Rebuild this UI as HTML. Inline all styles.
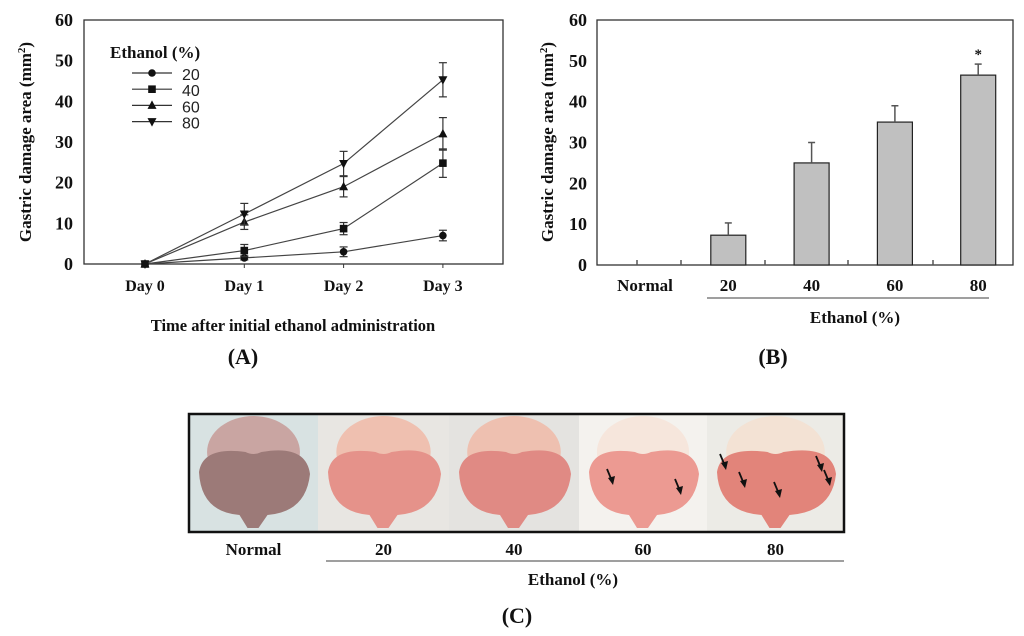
<!DOCTYPE html>
<html><head><meta charset="utf-8">
<style>
body{margin:0;background:#fff;}
svg{display:block;}
.ser{font-family:"Liberation Serif",serif;font-weight:bold;fill:#111;}
.sans{font-family:"Liberation Sans",sans-serif;fill:#222;}
</style></head>
<body>
<svg id="fig" width="1024" height="636" viewBox="0 0 1024 636" xmlns="http://www.w3.org/2000/svg">
<g id="panelA"></g>
<g id="panelB"></g>
<g id="panelC"></g>
</svg>
<script>
// Panel A data
const daysA = ["Day 0","Day 1","Day 2","Day 3"];
const seriesNamesA = ["20","40","60","80"];
const s20 = [0,1.5,3,7];
const s40 = [0,3.3,8.7,24.8];
const s60 = [0,10.3,19,32];
const s80 = [0,12.3,24.7,45.3];
const e20 = [0,0.5,1.2,1.3];
const e40 = [0,1.5,1.5,3.5];
const e60 = [0,1.8,2.5,4];
const e80 = [0,2.6,3,4.2];
const yTicksA = [0,10,20,30,40,50,60];
// Panel B data
const catsB = ["Normal","20","40","60","80"];
const valsB = [0,7.3,25,35,46.5];
const errB = [0,3,5,4,2.7];
const yTicksB = [0,10,20,30,40,50,60];

const NS="http://www.w3.org/2000/svg";
function mk(parent,tag,attrs,text){const e=document.createElementNS(NS,tag);for(const k in attrs)e.setAttribute(k,attrs[k]);if(text!==undefined)e.textContent=text;parent.appendChild(e);return e;}

// ---------- Panel A ----------
const A=document.getElementById('panelA');
const ax0=84,ax1=503,ay0=264,ay1=20;
const yA=v=>ay0-(v/60)*(ay0-ay1);
const xA=i=>145+i*99.3;
let r=mk(A,'rect',{x:ax0,y:ay1,width:ax1-ax0,height:ay0-ay1,fill:'none',stroke:'#333','stroke-width':1.3});


yTicksA.forEach(t=>{
  const tx=mk(A,'text',{x:73,y:yA(t)+6,'text-anchor':'end','font-size':18,class:'ser'},t);
  
  
});
daysA.forEach((d,i)=>{
  mk(A,'line',{x1:xA(i),x2:xA(i),y1:ay0,y2:ay0+4,stroke:'#333'});
  const tx=mk(A,'text',{x:xA(i),y:291,'text-anchor':'middle','font-size':16,class:'ser'},d);
  
  
});
let t=mk(A,'text',{x:293,y:331,'text-anchor':'middle','font-size':16.5,class:'ser'},'Time after initial ethanol administration');


t=mk(A,'text',{transform:'translate(31,142) rotate(-90)','text-anchor':'middle','font-size':17,class:'ser'});
t.innerHTML='Gastric damage area (mm<tspan dy="-6" font-size="11">2</tspan><tspan dy="6">)</tspan>';


t=mk(A,'text',{x:243,y:364,'text-anchor':'middle','font-size':22,class:'ser'},'(A)');



function marker(g,kind,x,y){
  if(kind===0) return mk(g,'circle',{cx:x,cy:y,r:3.8,fill:'#111'});
  if(kind===1) return mk(g,'rect',{x:x-3.8,y:y-3.8,width:7.6,height:7.6,fill:'#111'});
  if(kind===2) return mk(g,'polygon',{points:`${x},${y-5} ${x-4.5},${y+3.5} ${x+4.5},${y+3.5}`,fill:'#111'});
  return mk(g,'polygon',{points:`${x},${y+5} ${x-4.5},${y-3.5} ${x+4.5},${y-3.5}`,fill:'#111'});
}
const allS=[s20,s40,s60,s80], allE=[e20,e40,e60,e80];
allS.forEach((s,k)=>{
  const g=mk(A,'g',{});
  
  
  mk(g,'polyline',{points:s.map((v,i)=>xA(i)+','+yA(v)).join(' '),fill:'none',stroke:'#444','stroke-width':1.2});
  s.forEach((v,i)=>{
    const e=allE[k][i];
    if(e>0){
      mk(g,'line',{x1:xA(i),x2:xA(i),y1:yA(v+e),y2:yA(v-e),stroke:'#333','stroke-width':1.2});
      mk(g,'line',{x1:xA(i)-4,x2:xA(i)+4,y1:yA(v+e),y2:yA(v+e),stroke:'#333','stroke-width':1.2});
      mk(g,'line',{x1:xA(i)-4,x2:xA(i)+4,y1:yA(v-e),y2:yA(v-e),stroke:'#333','stroke-width':1.2});
    }
    const m=marker(g,k,xA(i),yA(v));
    
    
  });
});
// legend
t=mk(A,'text',{x:110,y:58,'font-size':17,class:'ser'},'Ethanol (%)');


seriesNamesA.forEach((n,k)=>{
  const ly=73+k*16.2;
  const g=mk(A,'g',{});
  
  
  mk(g,'line',{x1:132,x2:172,y1:ly,y2:ly,stroke:'#333','stroke-width':1.2});
  marker(g,k,152,ly);
  mk(g,'text',{x:182,y:ly+7,'font-size':16,class:'sans'},n);
});

// ---------- Panel B ----------
const B=document.getElementById('panelB');
const bx0=597,bx1=1013,by0=265,by1=20;
const yB=v=>by0-(v/60)*(by0-by1);
const xB=i=>645+i*83.3;
const tickXB=[637,681,765,848,933];
r=mk(B,'rect',{x:bx0,y:by1,width:bx1-bx0,height:by0-by1,fill:'none',stroke:'#333','stroke-width':1.3});


tickXB.forEach(x=>mk(B,'line',{x1:x,x2:x,y1:by0,y2:by0-5,stroke:'#555','stroke-width':1.5}));
yTicksB.forEach(tk=>{
  const tx=mk(B,'text',{x:587,y:yB(tk)+6,'text-anchor':'end','font-size':18,class:'ser'},tk);
  
  
});
t=mk(B,'text',{transform:'translate(553,142) rotate(-90)','text-anchor':'middle','font-size':17,class:'ser'});
t.innerHTML='Gastric damage area (mm<tspan dy="-6" font-size="11">2</tspan><tspan dy="6">)</tspan>';


catsB.forEach((c,i)=>{
  const v=valsB[i],e=errB[i],x=xB(i);
  if(v>0){
    const b=mk(B,'rect',{x:x-17.5,y:yB(v),width:35,height:yB(0)-yB(v),fill:'#c0c0c0',stroke:'#222','stroke-width':1.2});
    
    
    mk(B,'line',{x1:x,x2:x,y1:yB(v),y2:yB(v+e),stroke:'#555','stroke-width':1.5});
    mk(B,'line',{x1:x-3.5,x2:x+3.5,y1:yB(v+e),y2:yB(v+e),stroke:'#555','stroke-width':1.5});
  }
  const tx=mk(B,'text',{x:x,y:291,'text-anchor':'middle','font-size':17,class:'ser'},c);
  
  
});
t=mk(B,'text',{x:xB(4),y:yB(valsB[4]+errB[4])-5,'text-anchor':'middle','font-size':15,class:'ser'},'*');


mk(B,'line',{x1:707,x2:989,y1:298,y2:298,stroke:'#666','stroke-width':1.3});
t=mk(B,'text',{x:855,y:323,'text-anchor':'middle','font-size':17,class:'ser'},'Ethanol (%)');


t=mk(B,'text',{x:773,y:364,'text-anchor':'middle','font-size':22,class:'ser'},'(B)');



// ---------- Panel C ----------
const C=document.getElementById('panelC');
const photoLabels=["Normal","20","40","60","80"];
const px=[189,318,449,579,707,844];
const bgs=['#d8e2e2','#e8e6e2','#e4e3e0','#f4f2ee','#ecebe6'];
const tissue=['#9c7a78','#e5928a','#e08a84','#ec9a92','#e2847a'];
const upper=['#c9a5a2','#efc0b0','#eec0b0','#f6e6dc','#f3e2d4'];
photoLabels.forEach((lab,i)=>{
  const x0=px[i],w=px[i+1]-px[i],cx=x0+w/2;
  const g=mk(C,'g',{});
  
  
  mk(g,'rect',{x:x0,y:413,width:w,height:119,fill:bgs[i]});
  mk(g,'ellipse',{cx:cx,cy:452,rx:w*0.36,ry:36,fill:upper[i]});
  mk(g,'path',{d:`M${x0+10},${472} Q${x0+14},${446} ${cx-8},${452} Q${cx},${456} ${cx+8},${452} Q${x0+w-12},${444} ${x0+w-8},${474} Q${x0+w-12},${512} ${cx+14},${515} L${cx+5},${528} L${cx-6},${528} L${cx-14},${515} Q${x0+12},${512} ${x0+10},${472} Z`,fill:tissue[i]});
  const tx=mk(C,'text',{x:cx,y:555,'text-anchor':'middle','font-size':17,class:'ser'},lab);
  
  
});
// arrows
const arrows=[[612,483],[680,493],[725,468],[744,486],[779,496],[821,470],[829,484]];
arrows.forEach(a=>{
  const g=mk(C,'g',{});
  
  
  mk(g,'line',{x1:a[0]-5,y1:a[1]-14,x2:a[0],y2:a[1]-2,stroke:'#111','stroke-width':1.8});
  mk(g,'polygon',{points:`${a[0]+1},${a[1]+2} ${a[0]-4},${a[1]-5} ${a[0]+3},${a[1]-7}`,fill:'#111'});
});
r=mk(C,'rect',{x:189,y:414,width:655,height:118,fill:'none',stroke:'#111','stroke-width':2.5});


mk(C,'line',{x1:326,x2:844,y1:561,y2:561,stroke:'#666','stroke-width':1.3});
t=mk(C,'text',{x:573,y:585,'text-anchor':'middle','font-size':17,class:'ser'},'Ethanol (%)');


t=mk(C,'text',{x:517,y:623,'text-anchor':'middle','font-size':22,class:'ser'},'(C)');


</script>
</body></html>
